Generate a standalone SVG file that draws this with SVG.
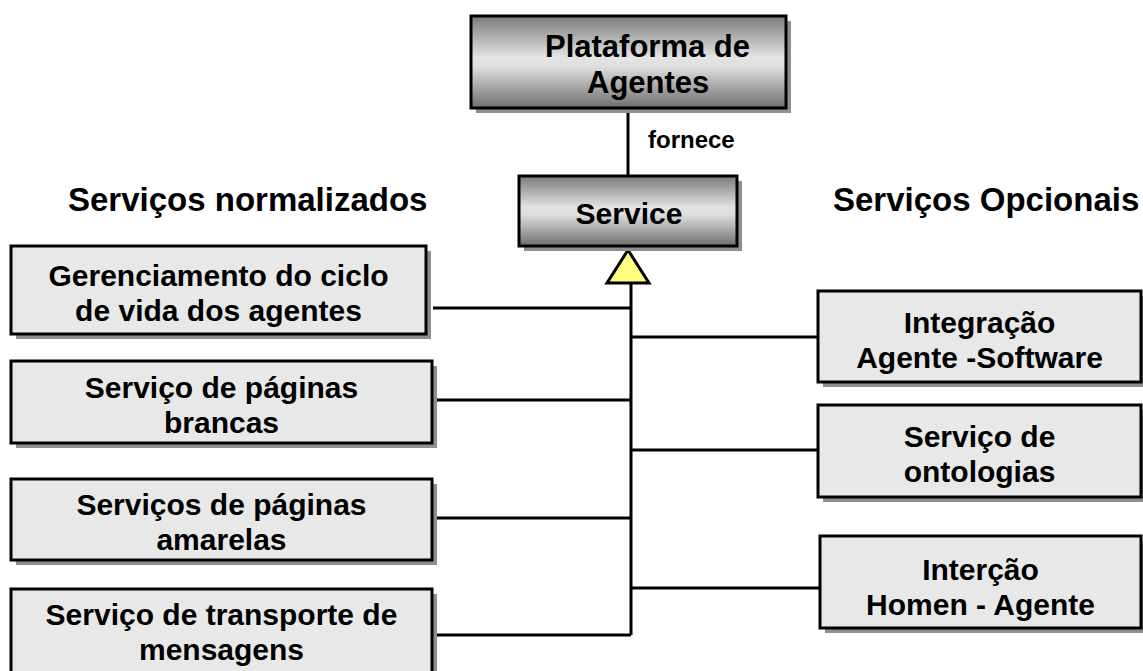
<svg xmlns="http://www.w3.org/2000/svg" width="1143" height="671" viewBox="0 0 1143 671">
<defs>
<linearGradient id="g" x1="0" y1="0" x2="0" y2="1">
<stop offset="0" stop-color="#7a7a7a"/>
<stop offset="0.45" stop-color="#e4e4e4"/>
<stop offset="0.55" stop-color="#dedede"/>
<stop offset="1" stop-color="#6e6e6e"/>
</linearGradient>
</defs>
<style>
.sh{fill:#8f8f8f}
.bx{fill:#e8e8e8;stroke:#000;stroke-width:3}
.gb{fill:url(#g);stroke:#000;stroke-width:3}
.t{font-family:"Liberation Sans",Arial,sans-serif;font-weight:bold;font-size:30px;fill:#000;text-anchor:middle}
.h{font-family:"Liberation Sans",Arial,sans-serif;font-weight:bold;font-size:33px;fill:#000}
.ln{stroke:#000;stroke-width:3;fill:none}
</style>
<rect width="1143" height="671" fill="#fff"/>
<text class="h" x="68" y="211">Serviços normalizados</text>
<text class="h" x="833" y="211">Serviços Opcionais</text>
<g id="connectors">
<line class="ln" x1="628" y1="108" x2="628" y2="176"/>
<text x="648" y="148" style="font-family:'Liberation Sans',Arial,sans-serif;font-weight:bold;font-size:24px">fornece</text>
<line class="ln" x1="631" y1="283" x2="631" y2="635"/>
<line class="ln" x1="433" y1="308" x2="631" y2="308"/>
<line class="ln" x1="433" y1="400" x2="631" y2="400"/>
<line class="ln" x1="433" y1="518" x2="631" y2="518"/>
<line class="ln" x1="433" y1="635" x2="631" y2="635"/>
<line class="ln" x1="631" y1="337" x2="818" y2="337"/>
<line class="ln" x1="631" y1="450" x2="818" y2="450"/>
<line class="ln" x1="631" y1="588" x2="820" y2="588"/>
<polygon points="628,250 607,283 649,283" fill="#ffff80" stroke="#000" stroke-width="3" stroke-linejoin="miter"/>
</g>
<g id="plataforma">
<rect class="sh" x="476" y="21" width="315" height="92"/>
<rect class="gb" x="471" y="16" width="315" height="92"/>
<text class="t" style="font-size:31px;text-anchor:start" x="545" y="57">Plataforma de</text>
<text class="t" style="font-size:31px;text-anchor:start" x="587" y="93">Agentes</text>
</g>
<g id="service">
<rect class="sh" x="524" y="181" width="218" height="70"/>
<rect class="gb" x="519" y="176" width="218" height="70"/>
<text class="t" x="629" y="224">Service</text>
</g>
<g id="gerenciamento">
<rect class="sh" x="16" y="251" width="415" height="88"/>
<rect class="bx" x="11" y="246" width="415" height="88"/>
<text class="t" x="218.5" y="286">Gerenciamento do ciclo</text>
<text class="t" x="218.5" y="321">de vida dos agentes</text>
</g>
<g id="paginas-brancas">
<rect class="sh" x="16" y="366" width="421" height="82"/>
<rect class="bx" x="11" y="361" width="421" height="82"/>
<text class="t" x="221.5" y="398">Serviço de páginas</text>
<text class="t" x="221.5" y="433">brancas</text>
</g>
<g id="paginas-amarelas">
<rect class="sh" x="16" y="484" width="421" height="81"/>
<rect class="bx" x="11" y="479" width="421" height="81"/>
<text class="t" x="221.5" y="515">Serviços de páginas</text>
<text class="t" x="221.5" y="550">amarelas</text>
</g>
<g id="transporte">
<rect class="sh" x="16" y="594" width="421" height="88"/>
<rect class="bx" x="11" y="589" width="421" height="88"/>
<text class="t" x="221.5" y="625">Serviço de transporte de</text>
<text class="t" x="221.5" y="660">mensagens</text>
</g>
<g id="integracao">
<rect class="sh" x="823" y="296" width="323" height="91"/>
<rect class="bx" x="818" y="291" width="323" height="91"/>
<text class="t" x="979.5" y="333">Integração</text>
<text class="t" x="979.5" y="368">Agente -Software</text>
</g>
<g id="ontologias">
<rect class="sh" x="823" y="410" width="323" height="92"/>
<rect class="bx" x="818" y="405" width="323" height="92"/>
<text class="t" x="979.5" y="447">Serviço de</text>
<text class="t" x="979.5" y="482">ontologias</text>
</g>
<g id="interacao">
<rect class="sh" x="825" y="541" width="321" height="92"/>
<rect class="bx" x="820" y="536" width="321" height="92"/>
<text class="t" x="980.5" y="580">Interção</text>
<text class="t" x="980.5" y="615">Homen - Agente</text>
</g>
</svg>
